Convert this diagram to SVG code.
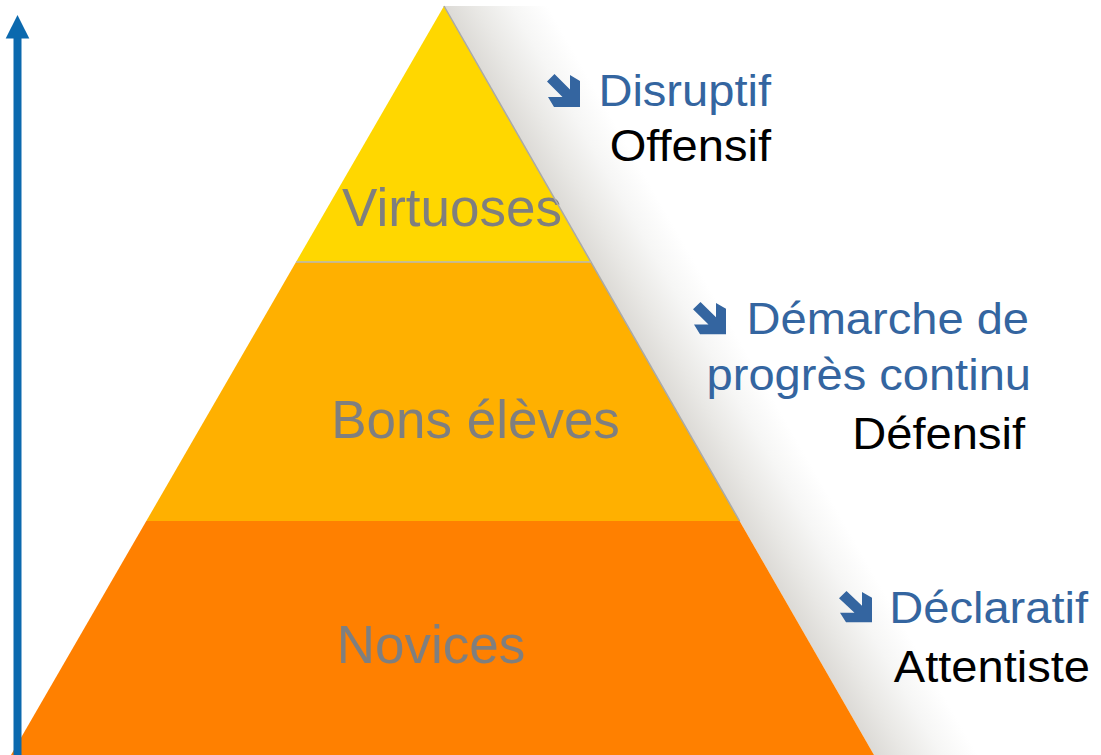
<svg xmlns="http://www.w3.org/2000/svg" width="1101" height="755" viewBox="0 0 1101 755">
  <defs>
    <style>
      .lbl { font-family: "Liberation Sans", Arial, sans-serif; font-size: 53px; fill: #7f7f7f; text-anchor: middle; }
      .rt { font-family: "Liberation Sans", Arial, sans-serif; font-size: 44px; text-anchor: end; }
      .blue { fill: #3465a0; }
      .blk { fill: #000000; }
      .ico { fill: #3465a0; }
    </style>
    <linearGradient id="shadow" gradientUnits="userSpaceOnUse" x1="444" y1="6" x2="522" y2="-38.8">
      <stop offset="0" stop-color="#dcdad6"/>
      <stop offset="0.3" stop-color="#e9e8e5"/>
      <stop offset="0.65" stop-color="#f6f6f5"/>
      <stop offset="1" stop-color="#ffffff"/>
    </linearGradient>
    <path id="darr" d="M7.5,0 L23,15.5 L23,1 L33,7 L33,33 L7,33 L1,23 L15.5,23 L0,7.5 Z"/>
  </defs>
  <rect width="1101" height="755" fill="#ffffff"/>

  <g id="shadow-band">
    <polygon points="444,6 874,755 1010,755 580,6" fill="url(#shadow)"/>
  </g>

  <g id="tier-virtuoses">
    <polygon points="444,6 591,262 296,262" fill="#ffd700"/>
    <text class="lbl" x="452" y="226">Virtuoses</text>
  </g>
  <g id="tier-bons-eleves">
    <polygon points="296,262 591,262 739.6,521 146.3,521" fill="#ffb000"/>
    <text class="lbl" x="475.5" y="438">Bons élèves</text>
  </g>
  <g id="tier-novices">
    <polygon points="146.3,521 739.6,521 874,755 11,755" fill="#ff8000"/>
    <text class="lbl" x="431" y="663">Novices</text>
  </g>
  <g id="pyramid-edges">
    <line x1="444" y1="6" x2="739.6" y2="521" stroke="#a9a9a9" stroke-width="1.5"/>
    <line x1="296" y1="262" x2="591" y2="262" stroke="#b9b9b9" stroke-width="1.5"/>
  </g>

  <g id="label-top">
    <use href="#darr" class="ico" transform="translate(547,74)"/>
    <text class="rt blue" transform="translate(771,106) scale(1.07,1)">Disruptif</text>
    <text class="rt blk" transform="translate(771,161) scale(1.07,1)">Offensif</text>
  </g>
  <g id="label-middle">
    <use href="#darr" class="ico" transform="translate(693,302) scale(1,0.98)"/>
    <text class="rt blue" transform="translate(1029,334) scale(1.07,1)">Démarche de</text>
    <text class="rt blue" transform="translate(1031,390) scale(1.07,1)">progrès continu</text>
    <text class="rt blk" transform="translate(1025,449) scale(1.07,1)">Défensif</text>
  </g>
  <g id="label-bottom">
    <use href="#darr" class="ico" transform="translate(839,591) scale(1,0.95)"/>
    <text class="rt blue" transform="translate(1088,623) scale(1.07,1)">Déclaratif</text>
    <text class="rt blk" transform="translate(1090,682) scale(1.07,1)">Attentiste</text>
  </g>

  <g id="connectors">
    <rect x="13.5" y="37" width="8" height="718" fill="#0b69ae"/>
    <polygon points="17.5,15 29.3,38.5 5.7,38.5" fill="#0b69ae"/>
  </g>
</svg>
